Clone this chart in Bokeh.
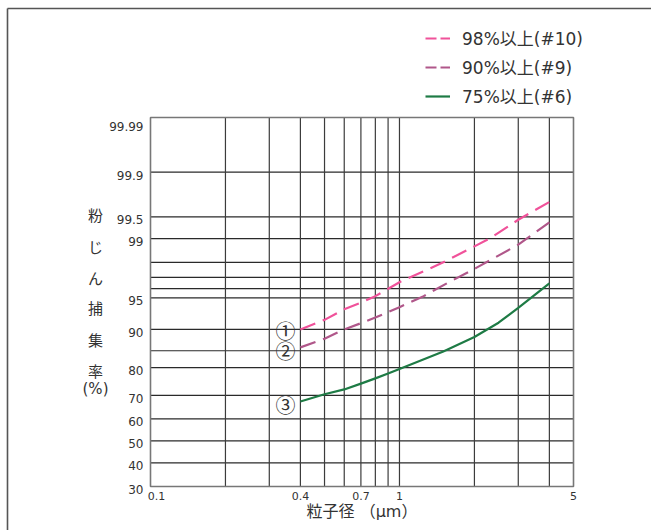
from math import log10
from statistics import NormalDist
from bokeh.plotting import figure
from bokeh.models import Legend, LegendItem, ColumnDataSource, Range1d
from bokeh.core.properties import value
from bokeh.embed import file_html
from bokeh.resources import INLINE

# ---------------- data ----------------
size_98 = [0.4, 0.5, 0.6, 0.7, 0.8, 1.0, 1.5, 2.3, 3.0, 4.0]
eff_98 = [90.0, 91.8, 93.5, 94.4, 95.2, 96.6, 98.0, 99.0, 99.45, 99.7]
size_90 = [0.4, 0.5, 0.6, 0.7, 0.8, 1.0, 1.25, 1.55, 2.05, 3.0, 4.0]
eff_90 = [85.9, 88.0, 90.0, 91.2, 92.2, 93.8, 95.2, 96.5, 97.7, 98.8, 99.4]
size_75 = [0.4, 0.5, 0.6, 0.7, 0.8, 0.9, 1.0, 1.5, 2.0, 2.5, 3.0, 4.0]
eff_75 = [67.5, 70.4, 72.3, 74.5, 76.4, 78.1, 79.6, 84.8, 88.4, 91.3, 93.7, 96.5]
series_names = ["98%以上(#10)", "90%以上(#9)", "75%以上(#6)"]
series_marks = ["①", "②", "③"]

y_tick_values = [30, 40, 50, 60, 70, 80, 90, 95, 99, 99.5, 99.9, 99.99]
y_tick_labels = ["30", "40", "50", "60", "70", "80", "90", "95", "99", "99.5", "99.9", "99.99"]
y_grid_values = [40, 50, 60, 70, 80, 85, 90, 95, 96, 97, 98, 99, 99.5, 99.9]
x_tick_values = [0.1, 0.4, 0.7, 1, 5]
x_tick_labels = ["0.1", "0.4", "0.7", "1", "5"]
x_grid_values = [0.2, 0.3, 0.4, 0.5, 0.6, 0.7, 0.8, 0.9, 1, 2, 3, 4]
x_title = "粒子径 （μm）"
y_title_parts = ["粉", "じ", "ん", "捕", "集", "率", "(%)"]

ND = NormalDist()
def probit(p):
    return ND.inv_cdf(p / 100.0)

FONT = "DejaVu Sans, Noto Sans CJK JP"
TXT = "#333333"

# ---------------- layout (canvas pixels) ----------------
W, H = 651, 530
FL, FR, FT, FB = 150, 573, 117, 486      # chart box
x_min, x_max = x_tick_values[0], x_tick_values[-1]
y_min, y_max = y_tick_values[0], y_tick_values[-1]
lx0, lx1 = log10(x_min), log10(x_max)
ppd = (FR - FL) / (lx1 - lx0)
z0, z1 = probit(y_min), probit(y_max)
ppz = (FB - FT) / (z1 - z0)
x_start = 10 ** (lx0 - FL / ppd)
x_end = 10 ** (lx1 + (W - FR) / ppd)
y_start = z0 - (H - FB) / ppz
y_end = z1 + FT / ppz

p = figure(width=W, height=H, output_backend="svg", toolbar_location=None,
           x_axis_type="log", x_range=Range1d(x_start, x_end),
           y_range=Range1d(y_start, y_end), min_border=0)
p.axis.visible = False
p.grid.visible = False
p.outline_line_color = None
p.background_fill_color = "white"
p.border_fill_color = "white"

# outer frame (top and left)
bx = 10 ** (lx0 - (FL - 7) / ppd)
by = z1 + (FT - 8) / ppz
p.segment(x0=[bx, bx], y0=[by, by], x1=[x_end, bx], y1=[by, y_start],
          line_color="#555555", line_width=1.6)

# grid
hz = [probit(v) for v in y_grid_values]
p.segment(x0=[x_min] * len(hz), x1=[x_max] * len(hz), y0=hz, y1=hz,
          line_color="#2a2a2a", line_width=1.2)
p.segment(x0=x_grid_values, x1=x_grid_values, y0=[z0] * len(x_grid_values),
          y1=[z1] * len(x_grid_values), line_color="#3c3c3c", line_width=1.2)
p.quad(left=[x_min], right=[x_max], bottom=[z0], top=[z1], fill_color=None,
       line_color="#777777", line_width=1.6)

# tick labels
ysrc = ColumnDataSource(dict(x=[x_min] * len(y_tick_values),
                             y=[probit(v) for v in y_tick_values],
                             t=y_tick_labels,
                             dy=[3] * (len(y_tick_values) - 1) + [9]))
p.text(x="x", y="y", text="t", source=ysrc, x_offset=-7, y_offset="dy",
       text_align="right", text_baseline="middle",
       text_font=value(FONT), text_font_size="12px", text_color=TXT)
xsrc = ColumnDataSource(dict(x=x_tick_values, y=[z0] * len(x_tick_values),
                             t=x_tick_labels, dx=[6, 0, 0, 0, 0]))
p.text(x="x", y="y", text="t", source=xsrc, x_offset="dx", y_offset=9,
       text_align="center", text_baseline="middle",
       text_font=value(FONT), text_font_size="11px", text_color=TXT)

# axis titles
p.text(x=[(x_min * x_max) ** 0.5], y=[z0], text=[x_title], y_offset=25,
       text_align="center", text_baseline="middle",
       text_font=value(FONT), text_font_size="16px", text_color=TXT)
ty_offsets = [215, 247, 278, 308, 340, 371, 388]
tsrc = ColumnDataSource(dict(x=[x_min] * len(y_title_parts), y=[z0] * len(y_title_parts),
                             t=y_title_parts, dy=[v - FB for v in ty_offsets]))
p.text(x="x", y="y", text="t", source=tsrc, x_offset=-55, y_offset="dy",
       text_align="center", text_baseline="middle",
       text_font=value(FONT), text_font_size="15px", text_color=TXT)

# series
colors = ["#F0529A", "#B0578A", "#1E7B45"]
dashes = ["16 8", "16 8", "solid"]
legend_dashes = ["11 4", "11 4", "solid"]
legend_renderers = []
for xs, vals, c, d, ld in zip([size_98, size_90, size_75], [eff_98, eff_90, eff_75],
                              colors, dashes, legend_dashes):
    p.line(xs, [probit(v) for v in vals], line_color=c, line_width=2.2, line_dash=d,
           line_join="round")
    # legend swatch: a single-vertex line (draws nothing in the chart)
    legend_renderers.append(p.line(x=xs[:1], y=[probit(vals[0])], line_color=c,
                                   line_width=2.2, line_dash=ld))

# circled markers at series start
msrc = ColumnDataSource(dict(
    x=[size_98[0], size_90[0], size_75[0]],
    y=[probit(s[0]) for s in (eff_98, eff_90, eff_75)],
    t=series_marks, dy=[1, 3, 3],
))
p.text(x="x", y="y", text="t", source=msrc, x_offset=-15, y_offset="dy",
       text_align="center", text_baseline="middle",
       text_font=value("Noto Sans CJK JP"), text_font_size="20px", text_color=TXT)

legend = Legend(items=[LegendItem(label=n, renderers=[r]) for n, r in zip(series_names, legend_renderers)],
                location=(425, H - 108), orientation="vertical",
                border_line_color=None, background_fill_alpha=0,
                glyph_width=25, glyph_height=22, label_standoff=12, spacing=4,
                label_height=22, padding=0, margin=0,
                label_text_font=FONT, label_text_font_size="17px", label_text_color=TXT)
p.add_layout(legend)

open("out.html", "w").write(file_html(p, INLINE))
